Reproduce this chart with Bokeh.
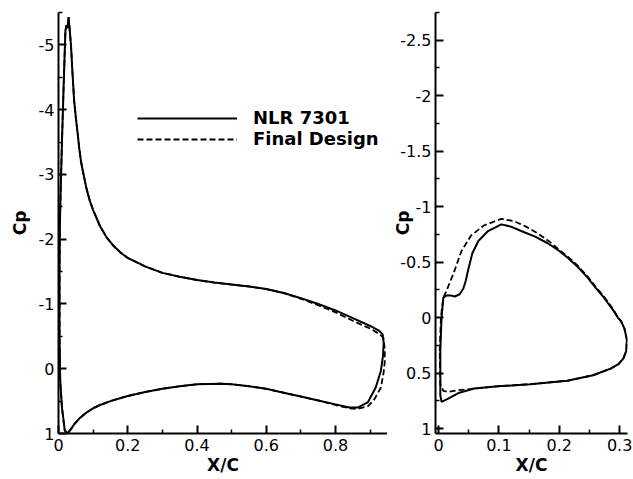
from bokeh.plotting import figure
from bokeh.layouts import row
from bokeh.models import Range1d, FixedTicker, Legend, LegendItem
from bokeh.embed import file_html
from bokeh.resources import INLINE

# ---------------- data ----------------
# Main element (left panel) - NLR 7301
main_x_nlr = [0.026, 0.018, 0.010, 0.005, 0.003, 0.003, 0.004, 0.006, 0.010, 0.015,
              0.020, 0.023, 0.026, 0.029, 0.032, 0.036, 0.040, 0.045, 0.050, 0.055,
              0.060, 0.065, 0.070, 0.080, 0.090, 0.100, 0.120, 0.140, 0.160, 0.180,
              0.200, 0.250, 0.300, 0.350, 0.400, 0.450, 0.500, 0.550, 0.600, 0.650,
              0.700, 0.750, 0.800, 0.850, 0.900, 0.925, 0.936, 0.939, 0.937, 0.931,
              0.916, 0.893, 0.864, 0.840, 0.800, 0.750, 0.700, 0.650, 0.600, 0.550,
              0.500, 0.470, 0.400, 0.350, 0.300, 0.250, 0.200, 0.150, 0.120, 0.100,
              0.080, 0.060, 0.045, 0.035, 0.026]
main_cp_nlr = [1.00, 0.95, 0.60, 0.20, -0.50, -1.50, -2.20, -2.70, -3.50, -4.40,
               -5.22, -5.30, -5.26, -5.43, -5.25, -5.00, -4.60, -4.15, -3.88, -3.65,
               -3.40, -3.20, -3.06, -2.80, -2.60, -2.45, -2.20, -2.02, -1.89, -1.79,
               -1.71, -1.58, -1.48, -1.42, -1.37, -1.33, -1.30, -1.27, -1.23, -1.17,
               -1.09, -1.00, -0.90, -0.78, -0.66, -0.59, -0.53, -0.40, -0.20, 0.03,
               0.29, 0.52, 0.60, 0.60, 0.55, 0.49, 0.43, 0.37, 0.31, 0.27,
               0.24, 0.23, 0.24, 0.27, 0.31, 0.36, 0.42, 0.50, 0.56, 0.61,
               0.68, 0.77, 0.86, 0.94, 1.00]

# Main element (left panel) - Final Design
main_x_fin = [0.026, 0.018, 0.010, 0.005, 0.003, 0.003, 0.004, 0.006, 0.010, 0.015,
              0.020, 0.023, 0.026, 0.029, 0.032, 0.036, 0.040, 0.045, 0.050, 0.055,
              0.060, 0.065, 0.070, 0.080, 0.090, 0.100, 0.120, 0.140, 0.160, 0.180,
              0.200, 0.250, 0.300, 0.350, 0.400, 0.450, 0.500, 0.550, 0.600, 0.650,
              0.700, 0.750, 0.800, 0.850, 0.900, 0.925, 0.938, 0.942, 0.942, 0.939,
              0.931, 0.910, 0.893, 0.864, 0.840, 0.800, 0.750, 0.700, 0.650, 0.600,
              0.550, 0.500, 0.470, 0.400, 0.350, 0.300, 0.250, 0.200, 0.150, 0.120,
              0.100, 0.080, 0.060, 0.045, 0.035, 0.026]
main_cp_fin = [1.00, 0.95, 0.60, 0.20, -0.50, -1.50, -2.20, -2.70, -3.50, -4.40,
               -5.22, -5.30, -5.26, -5.43, -5.25, -5.00, -4.60, -4.15, -3.88, -3.65,
               -3.40, -3.20, -3.06, -2.80, -2.60, -2.45, -2.20, -2.02, -1.89, -1.79,
               -1.71, -1.58, -1.48, -1.42, -1.37, -1.33, -1.30, -1.27, -1.23, -1.17,
               -1.08, -0.98, -0.87, -0.74, -0.62, -0.54, -0.48, -0.30, -0.10, 0.05,
               0.29, 0.49, 0.58, 0.62, 0.61, 0.56, 0.49, 0.43, 0.37, 0.31,
               0.27, 0.24, 0.23, 0.24, 0.27, 0.31, 0.36, 0.42, 0.50, 0.56,
               0.61, 0.68, 0.77, 0.86, 0.94, 1.00]

# Flap (right panel) - NLR 7301
flap_x_nlr = [0.005, 0.008, 0.013, 0.020, 0.027, 0.035, 0.041, 0.045, 0.050, 0.056,
              0.066, 0.082, 0.104, 0.120, 0.137, 0.160, 0.181, 0.200, 0.214, 0.230,
              0.247, 0.260, 0.274, 0.290, 0.297, 0.302, 0.308, 0.312, 0.311, 0.306,
              0.298, 0.285, 0.256, 0.213, 0.152, 0.098, 0.059, 0.033, 0.016, 0.005,
              0.003, 0.003, 0.005]
flap_cp_nlr = [0.00, -0.18, -0.20, -0.20, -0.19, -0.21, -0.26, -0.33, -0.45, -0.58,
               -0.69, -0.78, -0.84, -0.82, -0.78, -0.73, -0.67, -0.60, -0.54, -0.46,
               -0.36, -0.27, -0.18, -0.06, 0.00, 0.03, 0.10, 0.20, 0.30, 0.37,
               0.42, 0.46, 0.52, 0.57, 0.60, 0.62, 0.64, 0.68, 0.73, 0.76,
               0.70, 0.30, 0.00]

# Flap (right panel) - Final Design
flap_x_fin = [0.002, 0.004, 0.006, 0.008, 0.013, 0.025, 0.038, 0.054, 0.075, 0.104,
              0.125, 0.145, 0.164, 0.185, 0.200, 0.214, 0.230, 0.247, 0.260, 0.274,
              0.290, 0.297, 0.302, 0.308, 0.312, 0.311, 0.306, 0.298, 0.285, 0.256,
              0.213, 0.152, 0.098, 0.060, 0.033, 0.016, 0.008, 0.003, 0.002]
flap_cp_fin = [0.30, 0.00, -0.10, -0.18, -0.24, -0.40, -0.60, -0.74, -0.83, -0.89,
               -0.87, -0.82, -0.76, -0.68, -0.61, -0.55, -0.47, -0.37, -0.28, -0.19,
               -0.07, 0.00, 0.03, 0.10, 0.20, 0.30, 0.37, 0.42, 0.46, 0.52,
               0.57, 0.60, 0.62, 0.64, 0.655, 0.67, 0.66, 0.60, 0.30]

series_labels = ["NLR 7301", "Final Design"]

left_xticks = [0, 0.2, 0.4, 0.6, 0.8]
left_xminor = [0.1, 0.3, 0.5, 0.7, 0.9]
left_yticks = [-5, -4, -3, -2, -1, 0, 1]
left_yminor = [-5.5, -4.5, -3.5, -2.5, -1.5, -0.5, 0.5]
right_xticks = [0, 0.1, 0.2, 0.3]
right_xminor = [0.05, 0.15, 0.25]
right_yticks = [-2.5, -2, -1.5, -1, -0.5, 0, 0.5, 1]
right_yminor = [-2.75, -2.25, -1.75, -1.25, -0.75, -0.25, 0.25, 0.75]

FONT = "DejaVu Sans"


def fmt(v):
    return ("%g" % v)


def style(p, xt, xm, yt, ym, ylab_standoff):
    p.grid.visible = False
    p.outline_line_color = None
    p.background_fill_color = "white"
    p.border_fill_color = "white"
    p.xaxis.ticker = FixedTicker(ticks=xt, minor_ticks=xm)
    p.yaxis.ticker = FixedTicker(ticks=yt, minor_ticks=ym)
    p.xaxis.major_label_overrides = {v: fmt(v) for v in xt}
    p.yaxis.major_label_overrides = {v: fmt(v) for v in yt}
    for ax in (p.xaxis[0], p.yaxis[0]):
        ax.axis_line_color = "black"
        ax.axis_line_width = 2
        ax.major_tick_line_color = "black"
        ax.major_tick_line_width = 2
        ax.major_tick_in = 8
        ax.major_tick_out = 0
        ax.minor_tick_line_color = "black"
        ax.minor_tick_line_width = 1.5
        ax.minor_tick_in = 4
        ax.minor_tick_out = 0
        ax.major_label_text_font = FONT
        ax.major_label_text_font_size = "16px"
        ax.major_label_text_color = "black"
        ax.axis_label_text_font = FONT
        ax.axis_label_text_font_style = "bold"
        ax.axis_label_text_font_size = "17px"
        ax.axis_label_text_color = "black"
    p.xaxis.major_label_standoff = 5
    p.yaxis.major_label_standoff = 4
    p.xaxis.axis_label = "X/C"
    p.xaxis.axis_label_standoff = 1
    p.yaxis.axis_label = "Cp"
    p.yaxis.axis_label_standoff = ylab_standoff


p1 = figure(width=387, height=479, output_backend="svg", toolbar_location=None,
            x_range=Range1d(0, 0.95), y_range=Range1d(1, -5.5),
            min_border_left=58, min_border_right=0, min_border_top=12,
            min_border_bottom=46)
style(p1, left_xticks, left_xminor, left_yticks, left_yminor, 6)
r1 = p1.line(main_x_nlr, main_cp_nlr, line_color="black", line_width=2)
r2 = p1.line(main_x_fin, main_cp_fin, line_color="black", line_width=1.8,
             line_dash="6 3")

legend = Legend(items=[LegendItem(label=series_labels[0], renderers=[r1]),
                       LegendItem(label=series_labels[1], renderers=[r2])],
                location=(79, 284), glyph_width=100, glyph_height=18,
                label_height=18, label_standoff=16, spacing=0, padding=0,
                margin=0, border_line_color=None, background_fill_alpha=0,
                label_text_font=FONT, label_text_font_style="bold",
                label_text_font_size="18px", label_text_color="black")
p1.add_layout(legend)

p2 = figure(width=246, height=479, output_backend="svg", toolbar_location=None,
            x_range=Range1d(-0.005, 0.313), y_range=Range1d(1.045, -2.75),
            min_border_left=48, min_border_right=6, min_border_top=12,
            min_border_bottom=46)
style(p2, right_xticks, right_xminor, right_yticks, right_yminor, -16)
p2.line(flap_x_nlr, flap_cp_nlr, line_color="black", line_width=2)
p2.line(flap_x_fin, flap_cp_fin, line_color="black", line_width=1.8,
        line_dash="6 3")

layout = row(p1, p2)
open("out.html", "w").write(file_html(layout, INLINE))
